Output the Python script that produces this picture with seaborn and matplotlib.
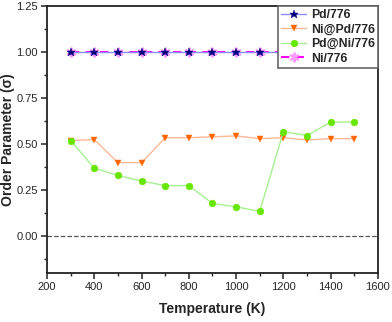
import numpy as np
import pandas as pd
import matplotlib
matplotlib.use("Agg")
import matplotlib.pyplot as plt
import seaborn as sns
from matplotlib.ticker import MultipleLocator

# data
temperature = [300, 400, 500, 600, 700, 800, 900, 1000, 1100, 1200, 1300, 1400, 1500]
pd_776 = [1.0] * 13
ni_at_pd = [0.52, 0.525, 0.40, 0.40, 0.535, 0.535, 0.54, 0.545, 0.53, 0.535, 0.523, 0.53, 0.53]
pd_at_ni = [0.52, 0.37, 0.33, 0.30, 0.275, 0.275, 0.178, 0.16, 0.135, 0.568, 0.547, 0.62, 0.62]
ni_776 = [1.0] * 13

sns.set_style("ticks")
plt.rcParams['font.family'] = ['Liberation Sans', 'DejaVu Sans']

fig = plt.figure(figsize=(3.92, 3.22), dpi=100)
ax = fig.add_axes([0.12, 0.152, 0.844, 0.829])

ax.axhline(0, color='#555555', ls='--', lw=0.9, zorder=1)

sns.lineplot(x=temperature, y=pd_776, ax=ax, color='#8c8cff', lw=1,
             marker='*', markersize=6.3, markerfacecolor='#00007f',
             markeredgecolor='#00007f', markeredgewidth=0.3, label='Pd/776', zorder=4)
sns.lineplot(x=temperature, y=ni_at_pd, ax=ax, color='#ffb896', lw=1,
             marker='v', markersize=5, markerfacecolor='#ff6600',
             markeredgecolor='#ff6600', markeredgewidth=0.3, label='Ni@Pd/776', zorder=3)
sns.lineplot(x=temperature, y=pd_at_ni, ax=ax, color='#a8f090', lw=1,
             marker='o', markersize=4.9, markerfacecolor='#66e600',
             markeredgecolor='#66e600', markeredgewidth=0.3, label='Pd@Ni/776', zorder=3)
sns.lineplot(x=temperature, y=ni_776, ax=ax, color='#ff00ff', lw=1.5,
             linestyle=(0, (4, 3)), marker=(6, 2, 0), markersize=7,
             markeredgecolor='#ff99ff', markeredgewidth=1.4,
             label='Ni/776', zorder=3)

ax.set_xlim(200, 1600)
ax.set_ylim(-0.2, 1.25)
ax.xaxis.set_major_locator(MultipleLocator(200))
ax.xaxis.set_minor_locator(MultipleLocator(100))
ax.yaxis.set_major_locator(MultipleLocator(0.25))
ax.yaxis.set_minor_locator(MultipleLocator(0.125))
ax.set_yticks([0.0, 0.25, 0.5, 0.75, 1.0, 1.25])
ax.tick_params(axis='both', which='major', direction='out', length=4, width=1.2,
               labelsize=8, color='#333333', pad=2.5)
ax.tick_params(axis='both', which='minor', direction='out', length=2.5, width=1)
for s in ax.spines.values():
    s.set_linewidth(1.3)
    s.set_color('#222222')

ax.set_xlabel('Temperature (K)', fontsize=10, fontweight='bold', labelpad=7)
ax.set_ylabel('Order Parameter (\u03c3)', fontsize=10, fontweight='bold')
ax.yaxis.set_label_coords(-0.097, 0.5)

leg = ax.legend(loc='upper right', borderaxespad=0, fancybox=False,
                prop={'weight': 'bold', 'size': 8.8}, handlelength=2.0,
                labelspacing=0.2, handletextpad=0.4, borderpad=0.25, framealpha=1)
leg.get_frame().set_edgecolor('#666666')
leg.get_frame().set_linewidth(1.2)

fig.savefig('out.png', dpi=100)
